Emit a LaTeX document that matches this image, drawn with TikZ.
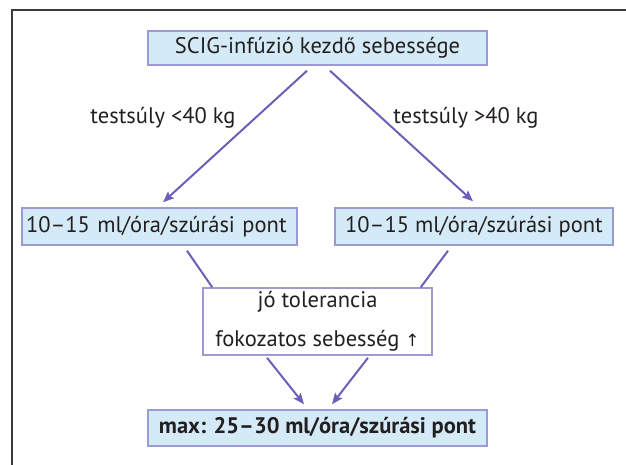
\documentclass[tikz,border=0pt]{standalone}
\usepackage{fontspec}
\setmainfont{PT Sans}
\newfontfamily\symfont{DejaVu Sans}
\usetikzlibrary{arrows.meta,calc}
\definecolor{boxfill}{HTML}{D4EAF6}
\definecolor{boxline}{HTML}{9D99D2}
\definecolor{arrcol}{HTML}{6A60B9}
\definecolor{txt}{HTML}{231F20}
\definecolor{framecol}{HTML}{3A3A3A}
\tikzset{
  bluebox/.style={draw=boxline, line width=1.5pt, fill=boxfill, text=txt, inner sep=0pt, font=\fontsize{22.5}{26}\selectfont},
  whitebox/.style={draw=boxline, line width=1.5pt, fill=white, text=txt, inner sep=0pt, align=center, font=\fontsize{22.5}{39}\selectfont},
  lbl/.style={text=txt, inner sep=0pt, font=\fontsize{22.5}{26}\selectfont},
  arr/.style={draw=arrcol, line width=2pt, -{Stealth[length=11pt,width=9pt,inset=2pt]}},
  conn/.style={draw=arrcol, line width=2pt}
}
\begin{document}
\begin{tikzpicture}[x=1pt,y=-1pt]
\useasboundingbox (0,0) rectangle (626,465);
\draw[framecol, line width=1.5pt] (12,465) -- (12,10) -- (626,10);

\node[bluebox, minimum width=339pt, minimum height=34pt] (top) at (317.5,48) {SCIG-infúzió kezdő sebessége};
\node[bluebox, minimum width=275pt, minimum height=37pt, text width=267pt, align=left] (left) at (159.5,226.5) {10–15 ml/óra/szúrási pont};
\node[bluebox, minimum width=278pt, minimum height=37pt] (right) at (474,226.5) {10–15 ml/óra/szúrási pont};
\node[whitebox, minimum width=229pt, minimum height=67pt] (mid) at (317.5,321.5) {jó tolerancia\\fokozatos sebesség {\symfont\fontsize{17}{17}\selectfont↑}};
\node[bluebox, minimum width=339pt, minimum height=36pt, font=\fontsize{22.5}{26}\selectfont\bfseries] (bot) at (317.5,428) {max: 25–30 ml/óra/szúrási pont};

\node[lbl] (l1) at (163,118) {testsúly <40 kg};
\node[lbl] (l2) at (466,118) {testsúly >40 kg};

\draw[arr] ([xshift=-10.5pt,yshift=-5pt]top.south) -- ([xshift=3.5pt,yshift=5pt]left.north);
\draw[arr] ([xshift=12.5pt,yshift=-5pt]top.south) -- ([xshift=-1pt,yshift=6pt]right.north);
\draw[conn] ([xshift=27.5pt,yshift=-5pt]left.south) -- ([xshift=10pt]mid.north west);
\draw[conn] ([xshift=-26pt,yshift=-5pt]right.south) -- ([xshift=-12pt]mid.north east);
\draw[arr] ([xshift=-50.5pt,yshift=-2pt]mid.south) -- ([xshift=-13.5pt,yshift=5pt]bot.north);
\draw[arr] ([xshift=50.5pt,yshift=-2pt]mid.south) -- ([xshift=14.5pt,yshift=5pt]bot.north);
\end{tikzpicture}
\end{document}
